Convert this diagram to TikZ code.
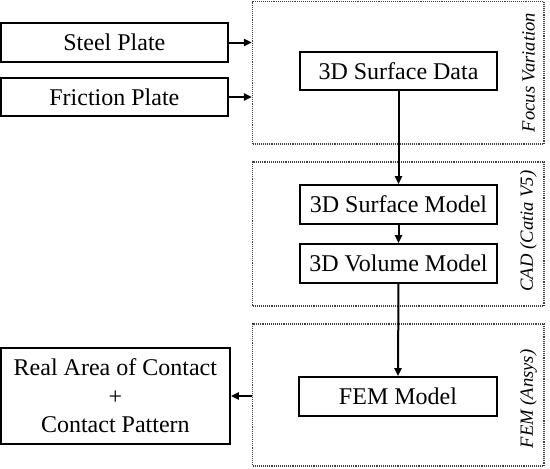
\documentclass[tikz,border=0pt]{standalone}
\usepackage{fontspec}
\setmainfont{Liberation Serif}
\usetikzlibrary{arrows.meta}
\begin{document}
\begin{tikzpicture}[x=1pt,y=-1pt,
  stepbox/.style={draw=black,line width=1.6pt,inner sep=0pt,font=\fontsize{24}{28.4}\selectfont,align=center},
  groupbox/.style={draw=black!75,line width=1.1pt,densely dotted,inner sep=0pt},
  grouplabel/.style={rotate=90,font=\fontsize{18.6}{22}\selectfont\itshape,inner sep=0pt},
  flow/.style={line width=2pt,-{Triangle[length=8pt,width=7pt]}}]
\useasboundingbox (0,0) rectangle (550,469);
% group boxes
\node[groupbox,minimum width=291.5pt,minimum height=142.5pt] (focus) at (398.25,72.75) {};
\node[groupbox,minimum width=291.5pt,minimum height=144pt] (cad) at (398.25,234) {};
\node[groupbox,minimum width=291.5pt,minimum height=142pt] (fem) at (398.25,395) {};
\node[grouplabel] (lfocus) at (528.5,72.5) {Focus Variation};
\node[grouplabel] (lcad) at (528.5,231) {CAD (Catia V5)};
\node[grouplabel] (lfem) at (528.5,399) {FEM (Ansys)};
% step boxes
\node[stepbox,minimum width=227.3pt,minimum height=39pt] (steel) at (114.35,42.5) {Steel Plate};
\node[stepbox,minimum width=227.3pt,minimum height=38pt] (friction) at (114.35,97) {Friction Plate};
\node[stepbox,minimum width=197pt,minimum height=38pt] (surfdata) at (398.5,71) {3D Surface Data};
\node[stepbox,minimum width=197pt,minimum height=39pt] (surfmodel) at (398.5,204.5) {3D Surface Model};
\node[stepbox,minimum width=197pt,minimum height=39pt] (volmodel) at (398.5,263.5) {3D Volume Model};
\node[stepbox,minimum width=198pt,minimum height=39pt] (femmodel) at (398,396.5) {FEM Model};
\node[stepbox,minimum width=229.3pt,minimum height=96pt] (real) at (115.35,396) {Real Area of Contact\\+\\Contact Pattern};
% connectors
\draw[flow] (steel.east) -- (steel.east -| focus.west);
\draw[flow] (friction.east) -- (friction.east -| focus.west);
\draw[flow] (surfdata.south) -- (surfmodel.north);
\draw[flow] (surfmodel.south) -- (volmodel.north);
\draw[flow] (volmodel.south) -- (femmodel.north);
\draw[flow] (real.east -| fem.west) -- (real.east);
\end{tikzpicture}
\end{document}
